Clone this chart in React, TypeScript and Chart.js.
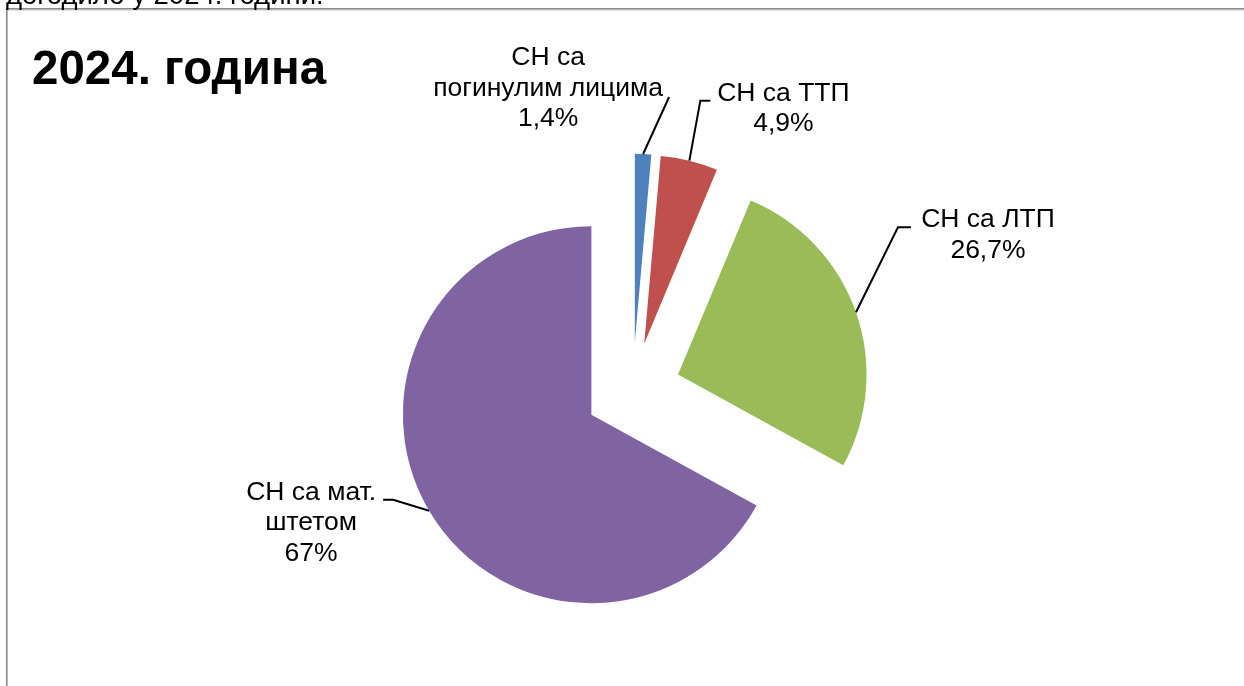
import { useEffect, useRef } from "react";
import { Chart, registerables } from "chart.js";

Chart.register(...registerables);

// ---- data ----
const categories = ["СН са погинулим лицима", "СН са ТТП", "СН са ЛТП", "СН са мат. штетом"];
const shares = [1.4, 4.9, 26.7, 67];
const valueLabels = ["1,4%", "4,9%", "26,7%", "67%"];
const labelLines = [["СН са", "погинулим лицима"], ["СН са ТТП"], ["СН са ЛТП"], ["СН са мат.", "штетом"]];
const sliceColors = ["#4F81BD", "#C0504D", "#9BBB59", "#8064A2"];
const chartTitle = "2024. година";
const captionAbove = "догодило у 2024. години.";

// ---- layout / style (label placement relative to each slice's leader anchor) ----
const EXPLODE = 48;
const RADIUS = 188.5;
const FONT = '"Liberation Sans", Arial, sans-serif';
// elbow delta, horizontal tail, label centre x, first baseline (all relative to anchor)
const leaderLayout = [
  { ex: 26, ey: -57, tail: 0, lx: -95, ly: -89 },
  { ex: 11, ey: -60, tail: 10, lx: 94, ly: -60 },
  { ex: 42, ey: -85, tail: 13, lx: 132, ly: -85 },
  { ex: -36, ey: -11, tail: -10, lx: -118, ly: -11 },
];

const explodePlugin = {
  id: "explodeSlices",
  beforeDatasetDraw(chart: any, args: any) {
    const meta = chart.getDatasetMeta(args.index);
    const ctx = chart.ctx;
    meta.data.forEach((arc: any) => {
      const mid = (arc.startAngle + arc.endAngle) / 2;
      ctx.save();
      ctx.translate(Math.cos(mid) * EXPLODE, Math.sin(mid) * EXPLODE);
      arc.draw(ctx);
      ctx.restore();
    });
    return false;
  },
};

const decorPlugin = {
  id: "decor",
  beforeDraw(chart: any) {
    const ctx = chart.ctx;
    ctx.save();
    ctx.fillStyle = "#ffffff";
    ctx.fillRect(0, 0, chart.width, chart.height);
    ctx.fillStyle = "#8a8a8a";
    ctx.fillRect(6, 8, chart.width, 1.6);
    ctx.fillRect(6, 8, 1.6, chart.height);
    ctx.fillStyle = "#e4e4e4";
    ctx.fillRect(8, 10, chart.width, 1);
    ctx.fillStyle = "#000";
    ctx.textBaseline = "alphabetic";
    ctx.textAlign = "left";
    ctx.font = `27.5px ${FONT}`;
    ctx.fillText(captionAbove, 6, 4);
    ctx.font = `bold 47.5px ${FONT}`;
    ctx.fillText(chartTitle, 32, 83.5);
    ctx.restore();
  },
  afterDatasetsDraw(chart: any) {
    const ctx = chart.ctx;
    const meta = chart.getDatasetMeta(0);
    ctx.save();
    meta.data.forEach((arc: any, i: number) => {
      const mid = (arc.startAngle + arc.endAngle) / 2;
      const r = arc.outerRadius + EXPLODE;
      const ax = arc.x + Math.cos(mid) * r;
      const ay = arc.y + Math.sin(mid) * r;
      const L = leaderLayout[i];
      ctx.strokeStyle = "#000";
      ctx.lineWidth = 2;
      ctx.beginPath();
      ctx.moveTo(ax, ay);
      ctx.lineTo(ax + L.ex, ay + L.ey);
      if (L.tail) ctx.lineTo(ax + L.ex + L.tail, ay + L.ey);
      ctx.stroke();
      ctx.fillStyle = "#000";
      ctx.font = `26.5px ${FONT}`;
      ctx.textAlign = "center";
      ctx.textBaseline = "alphabetic";
      const lines = [...labelLines[i], valueLabels[i]];
      lines.forEach((t, k) => {
        ctx.fillText(t, ax + L.lx, ay + L.ly + k * 30.5);
      });
    });
    ctx.restore();
  },
};

export default function App() {
  const ref = useRef<HTMLCanvasElement | null>(null);
  useEffect(() => {
    if (!ref.current) return;
    const chart = new Chart(ref.current, {
      type: "pie",
      data: {
        labels: categories,
        datasets: [
          {
            data: shares,
            backgroundColor: sliceColors,
            borderWidth: 0,
          },
        ],
      },
      options: {
        responsive: false,
        animation: false,
        radius: RADIUS,
        layout: { padding: { left: 21.4, right: 0, top: 94.6, bottom: 0 } },
        plugins: {
          legend: { display: false },
          tooltip: { enabled: false },
          title: { display: false },
        },
      } as any,
      plugins: [explodePlugin, decorPlugin],
    });
    return () => chart.destroy();
  }, []);
  return (
    <div style={{ position: "absolute", left: 0, top: 0, width: 1244, height: 686, overflow: "hidden", background: "#fff" }}>
      <canvas ref={ref} width={1244} height={686} style={{ display: "block" }} />
    </div>
  );
}
